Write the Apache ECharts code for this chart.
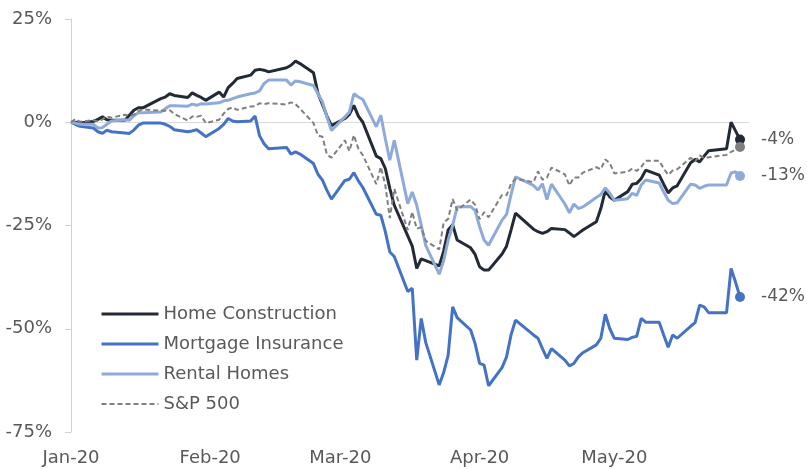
<!DOCTYPE html>
<html lang="en">
<head>
    <meta charset="UTF-8">
    <title>Housing sub-sectors vs S&amp;P 500, YTD 2020</title>
    <script src="https://cdn.jsdelivr.net/npm/echarts@6/dist/echarts.min.js"></script>
    <style>
        body { margin: 0; background: #fff; }
        #chart { width: 807px; height: 469px; }
    </style>
</head>
<body>
    <div id="chart"></div>
    <script>
        // trading days of 2020 (day of month), the series start from a 0% base on Jan 1
        const janDays = [2, 3, 6, 7, 8, 9, 10, 13, 14, 15, 16, 17, 21, 22, 23, 24, 27, 28, 29, 30, 31];
        const febDays = [3, 4, 5, 6, 7, 10, 11, 12, 13, 14, 18, 19, 20, 21, 24, 25, 26, 27, 28];
        const marDays = [2, 3, 4, 5, 6, 9, 10, 11, 12, 13, 16, 17, 18, 19, 20, 23, 24, 25, 26, 27, 30, 31];
        const aprDays = [1, 2, 3, 6, 7, 8, 9, 13, 14, 15, 16, 17, 20, 21, 22, 23, 24, 27, 28, 29, 30];
        const mayDays = [1, 4, 5, 6, 7, 8, 11, 12, 13, 14, 15, 18, 19, 20, 21, 22, 26, 27, 28, 29];

        const monthLabels = ['Jan-20', 'Feb-20', 'Mar-20', 'Apr-20', 'May-20'];
        const seriesNames = ['Home Construction', 'Mortgage Insurance', 'Rental Homes', 'S&P 500'];

        // % change since start of year
        const homeConstruction = [0,
            0.0, -0.2, 0.2, 0.7, 1.3, 0.6, 0.5, 0.5, 1.7, 2.9, 3.5, 3.5, 5.7, 6.1, 6.9, 6.5, 6.0, 7.1, 6.5, 6.0, 5.3,
            7.3, 6.1, 8.4, 9.4, 10.6, 11.4, 12.6, 12.8, 12.6, 12.2, 13.2, 13.8, 14.8, 14.2, 12.0, 7.0, 4.3, 1.5, -0.8,
            0.9, 1.9, 4.1, 1.5, 0.0, -8.2, -8.8, -11.2, -16.0, -20.1, -27.5, -30.0, -35.4, -33.1, -33.5, -34.8, -31.2, -26.1, -24.8, -28.5, -30.4, -32.0,
            -35.0, -35.8, -35.8, -31.9, -30.0, -26.1, -22.0, -25.9, -26.5, -26.9, -26.5, -25.7, -26.0, -26.8, -27.7, -26.9, -26.1, -24.1, -20.9, -16.5, -18.1,
            -18.9, -16.8, -15.0, -14.8, -13.6, -11.6, -12.8, -15.0, -17.1, -15.9, -15.4, -9.8, -9.0, -9.6, -8.2, -6.9, -6.4, 0.0, -2.1, -4.2
        ];
        const mortgageInsurance = [0,
            -0.5, -1.0, -1.4, -2.3, -2.7, -1.9, -2.3, -2.6, -2.7, -1.9, -0.7, -0.2, -0.2, -0.5, -1.0, -1.8, -2.3, -2.1, -1.8, -2.6, -3.5,
            -1.5, -0.5, 0.9, 0.3, 0.1, 0.3, 1.5, -3.3, -5.2, -6.4, -6.1, -7.7, -7.2, -7.7, -10.0, -12.6, -14.0, -16.5, -18.6,
            -14.1, -13.8, -12.2, -14.2, -15.8, -22.3, -22.5, -26.5, -31.4, -32.5, -41.0, -40.2, -57.6, -47.5, -53.3, -63.6, -60.6, -56.4, -44.7, -47.3, -50.3, -53.6,
            -58.4, -58.8, -63.8, -59.4, -56.8, -51.5, -47.9, -51.5, -52.3, -54.8, -57.2, -54.8, -57.6, -59.0, -58.4, -56.8, -55.8, -53.9, -52.3, -46.5, -50.0,
            -52.3, -52.6, -52.1, -51.8, -47.5, -48.4, -48.4, -51.5, -54.5, -51.5, -52.3, -49.4, -48.5, -44.3, -44.7, -46.1, -46.1, -35.4, -38.7, -42.3
        ];
        const rentalHomes = [0,
            -0.2, -0.5, -0.5, -1.4, -1.3, -0.5, 0.3, 0.6, 0.5, 1.6, 2.3, 2.3, 2.5, 3.3, 4.0, 4.0, 3.9, 4.4, 4.1, 4.5, 4.4,
            4.7, 5.2, 5.3, 5.7, 6.1, 6.9, 7.1, 7.6, 9.4, 10.2, 10.2, 9.0, 10.0, 9.8, 8.9, 6.9, 4.9, 1.3, -2.0,
            1.3, 2.5, 6.9, 6.1, 5.5, -1.1, 1.7, -4.0, -9.2, -4.4, -19.7, -16.9, -20.1, -24.9, -29.8, -36.8, -33.5, -28.5, -25.0, -20.5, -20.4, -21.4,
            -25.3, -28.5, -29.8, -23.7, -22.3, -17.6, -13.2, -15.3, -16.4, -14.9, -18.7, -15.0, -19.8, -21.9, -19.8, -20.9, -20.5, -18.2, -17.5, -15.9, -17.2,
            -18.9, -18.5, -17.2, -17.7, -15.2, -14.0, -14.7, -16.9, -18.9, -19.7, -19.5, -15.0, -15.2, -16.0, -15.5, -15.2, -15.2, -12.3, -12.0, -13.0
        ];
        const sp500 = [0,
            0.8, 0.1, 0.5, 0.2, 0.7, 1.4, 1.1, 1.8, 1.6, 1.8, 2.7, 3.1, 2.8, 2.8, 2.9, 2.0, 0.4, 1.4, 1.3, 1.6, -0.2,
            0.6, 2.1, 3.2, 3.6, 3.0, 3.8, 3.9, 4.6, 4.4, 4.6, 4.3, 4.8, 4.4, 3.3, -0.2, -3.2, -3.5, -7.8, -8.6,
            -4.4, -7.0, -3.1, -6.4, -8.0, -15.0, -10.8, -15.2, -23.2, -16.1, -26.1, -21.7, -25.8, -25.4, -28.7, -30.8, -24.3, -23.4, -18.6, -21.3, -18.7, -20.0,
            -23.5, -21.8, -23.0, -17.6, -17.7, -14.9, -13.7, -14.5, -11.9, -13.9, -13.4, -11.0, -12.6, -15.3, -13.4, -13.4, -12.2, -10.9, -11.4, -9.0, -9.9,
            -12.4, -12.0, -11.2, -11.8, -10.8, -9.3, -9.3, -11.2, -12.7, -11.7, -11.4, -8.6, -9.5, -8.0, -8.7, -8.5, -7.9, -7.2, -6.6, -6.0
        ];

        const colors = ['#222a35', '#4472c4', '#8eaadb', '#7f7f7f'];
        const textColor = '#595959';
        const font = 'DejaVu Sans';

        // build the date list
        const dates = ['2020-01-01'];
        [janDays, febDays, marDays, aprDays, mayDays].forEach(function (days, m) {
            days.forEach(function (d) {
                dates.push('2020-' + String(m + 1).padStart(2, '0') + '-' + String(d).padStart(2, '0'));
            });
        });

        // pair dates with values, last point gets the end marker (+ label if wanted)
        function toData(values, showLabel) {
            return values.map(function (v, i) {
                if (i < values.length - 1) return [dates[i], v];
                return {
                    value: [dates[i], v],
                    symbol: 'circle',
                    symbolSize: 10,
                    label: {
                        show: showLabel,
                        position: 'right',
                        distance: 16,
                        color: textColor,
                        fontFamily: font,
                        fontSize: 17,
                        formatter: function (p) { return Math.round(p.value[1]) + '%'; }
                    }
                };
            });
        }

        const chart = echarts.init(document.getElementById('chart'));

        const lineDefs = [
            { values: homeConstruction, width: 3, type: 'solid', label: true },
            { values: mortgageInsurance, width: 3, type: 'solid', label: true },
            { values: rentalHomes, width: 3, type: 'solid', label: true },
            { values: sp500, width: 2, type: [5, 3], label: false }
        ];

        const lineSeries = lineDefs.map(function (s, i) {
            return {
                name: seriesNames[i],
                type: 'line',
                data: toData(s.values, s.label),
                symbol: 'none',
                showSymbol: true,
                color: colors[i],
                lineStyle: { color: colors[i], width: s.width, type: s.type },
                itemStyle: { color: colors[i] },
                emphasis: { disabled: true }
            };
        });

        chart.setOption({
            animation: false,
            backgroundColor: '#fff',
            grid: { left: 71, right: 58, top: 19, bottom: 37 },
            legend: {
                orient: 'vertical',
                left: 100,
                top: 305,
                padding: 0,
                itemWidth: 57,
                itemHeight: 20,
                itemGap: 12,
                data: seriesNames.map(function (n, i) {
                    return { name: n, lineStyle: { width: lineDefs[i].width, type: lineDefs[i].type } };
                }),
                itemStyle: { opacity: 0, borderWidth: 0 },
                textStyle: { color: textColor, fontFamily: font, fontSize: 18 }
            },
            xAxis: {
                type: 'time',
                min: '2020-01-01',
                max: '2020-05-31',
                axisLine: { show: false },
                axisTick: { show: false },
                splitLine: { show: false },
                axisLabel: {
                    color: textColor,
                    fontFamily: font,
                    fontSize: 18,
                    margin: 17,
                    showMinLabel: true,
                    formatter: function (val) {
                        const d = new Date(val);
                        return d.getDate() === 1 ? monthLabels[d.getMonth()] || '' : '';
                    }
                }
            },
            yAxis: {
                type: 'value',
                min: -75,
                max: 25,
                interval: 25,
                axisLine: { show: true, lineStyle: { color: '#d0d0d0', width: 1 } },
                axisTick: { show: true, length: 6, lineStyle: { color: '#d0d0d0' } },
                // only the 0% line is visible
                splitLine: {
                    show: true,
                    lineStyle: { color: ['rgba(0,0,0,0)', 'rgba(0,0,0,0)', 'rgba(0,0,0,0)', '#d9d9d9', 'rgba(0,0,0,0)'], width: 1 }
                },
                axisLabel: {
                    color: textColor,
                    fontFamily: font,
                    fontSize: 18,
                    margin: 19,
                    formatter: '{value}%'
                }
            },
            series: lineSeries
        });
    </script>
</body>
</html>
